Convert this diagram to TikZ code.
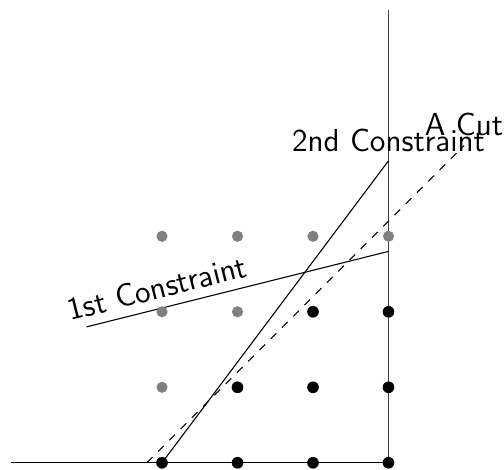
\documentclass[tikz,border=0pt]{standalone}
\usetikzlibrary{positioning}

\begin{document}
\begin{tikzpicture}[
 font=\large\sffamily,
 feas/.style={circle, fill=black, inner sep=0pt, minimum size=4.4pt},
 infeas/.style={circle, fill=gray, inner sep=0pt, minimum size=4.2pt},
 cutline/.style={dashed, line width=0.4pt}]
\useasboundingbox (-2.146,-0.093) rectangle (4.53,6.13);

\coordinate (xl) at (-2,0);
\coordinate (xr) at (3,0);
\coordinate (yt) at (3,6);
\coordinate (o) at (0,0);
\coordinate (c1a) at (-1,1.8);
\coordinate (c1b) at (3,2.8);
\coordinate (c2) at (3,4);
\coordinate (cuta) at (-0.2,0);
\coordinate (cutb) at (4,4.2);

% axes
\draw (xl) -- (xr);
\draw[black!75, line width=0.5pt] (xr) -- (yt);

% constraints and the cut
\draw (c1a) -- node[pos=0.25, above, sloped]{1st Constraint} (c1b);
\draw (o) -- (c2) node[above]{2nd Constraint};
\draw[cutline] (cuta) -- (cutb) node[above]{A Cut};

% integer points
\foreach \x/\y in {0/3, 1/3, 2/3, 3/3, 0/2, 1/2, 0/1}
  \node[infeas] (p\x\y) at (\x,\y) {};
\foreach \x/\y in {2/2, 3/2, 1/1, 2/1, 3/1, 0/0, 1/0, 2/0, 3/0}
  \node[feas] (p\x\y) at (\x,\y) {};

\end{tikzpicture}
\end{document}
